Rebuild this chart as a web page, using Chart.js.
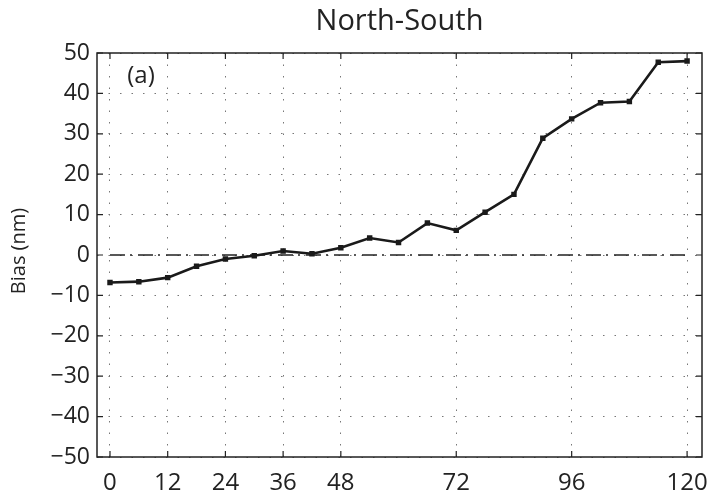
<!DOCTYPE html>
<html>
<head>
<meta charset="utf-8">
<script src="https://cdn.jsdelivr.net/npm/chart.js@4/dist/chart.umd.min.js"></script>
<style>
  html, body { margin: 0; padding: 0; background: #fff; }
  #wrap { width: 712px; height: 490px; }
</style>
</head>
<body>
<div id="wrap"><canvas id="chart"></canvas></div>
<script>
// forecast hours and bias values
const hours = [0, 6, 12, 18, 24, 30, 36, 42, 48, 54, 60, 66, 72, 78, 84, 90, 96, 102, 108, 114, 120];
const bias = [-6.8, -6.6, -5.6, -2.8, -1.0, -0.2, 1.0, 0.3, 1.8, 4.2, 3.1, 7.9, 6.1, 10.6, 15.0, 28.9, 33.7, 37.7, 38.0, 47.7, 48.0];
const xTicks = [0, 12, 24, 36, 48, 72, 96, 120];
const yTicks = [-50, -40, -30, -20, -10, 0, 10, 20, 30, 40, 50];
const zeroLine = [0, 120];

const FONT = "'Open Sans', 'DejaVu Sans', sans-serif";

// box, inward tick marks, titles and panel label
const framePlugin = {
  id: "frame",
  afterDraw(chart) {
    const { ctx, chartArea: a, scales } = chart;
    ctx.save();
    ctx.strokeStyle = "#222";
    ctx.lineWidth = 1.5;
    ctx.strokeRect(a.left, a.top, a.right - a.left, a.bottom - a.top);
    ctx.lineWidth = 1.2;
    ctx.beginPath();
    xTicks.forEach(v => {
      const px = scales.x.getPixelForValue(v);
      ctx.moveTo(px, a.bottom); ctx.lineTo(px, a.bottom - 6);
      ctx.moveTo(px, a.top); ctx.lineTo(px, a.top + 6);
    });
    yTicks.forEach(v => {
      const py = scales.y.getPixelForValue(v);
      ctx.moveTo(a.left, py); ctx.lineTo(a.left + 6, py);
      ctx.moveTo(a.right, py); ctx.lineTo(a.right - 6, py);
    });
    ctx.stroke();

    ctx.fillStyle = "#222";
    ctx.textAlign = "center";
    ctx.textBaseline = "middle";
    ctx.font = "29px " + FONT;
    ctx.fillText("North-South", (a.left + a.right) / 2, 22);
    ctx.font = "24px " + FONT;
    ctx.fillText("(a)", a.left + 44, a.top + 23);

    ctx.translate(19, 251);
    ctx.rotate(-Math.PI / 2);
    ctx.font = "20px " + FONT;
    ctx.fillText("Bias (nm)", 0, 0);
    ctx.restore();
  }
};

new Chart(document.getElementById("chart"), {
  type: "line",
  data: {
    datasets: [
      {
        data: hours.map((h, i) => ({ x: h, y: bias[i] })),
        borderColor: "#1a1a1a",
        backgroundColor: "#1a1a1a",
        borderWidth: 2.6,
        pointStyle: "rect",
        pointRadius: 2,
        tension: 0
      },
      {
        data: zeroLine.map(h => ({ x: h, y: 0 })),
        borderColor: "#222",
        borderWidth: 1.5,
        borderDash: [15, 5, 2, 6],
        pointRadius: 0
      }
    ]
  },
  plugins: [framePlugin],
  options: {
    responsive: true,
    maintainAspectRatio: false,
    animation: false,
    layout: { padding: { top: 53, right: 10, left: 0, bottom: 0 } },
    plugins: { legend: { display: false }, tooltip: { enabled: false } },
    scales: {
      x: {
        type: "linear",
        min: -2.7,
        max: 123.1,
        afterBuildTicks: s => { s.ticks = xTicks.map(v => ({ value: v })); },
        afterFit: s => { s.height = 33; s.paddingLeft = 0; s.paddingRight = 0; },
        grid: { color: "#777", lineWidth: 1, drawTicks: false },
        border: { display: false, dash: [1.5, 10] },
        ticks: { color: "#222", font: { family: FONT, size: 24 }, padding: 12, maxRotation: 0 }
      },
      y: {
        min: -50,
        max: 50,
        afterBuildTicks: s => { s.ticks = yTicks.map(v => ({ value: v })); },
        afterFit: s => { s.width = 97; s.paddingTop = 0; s.paddingBottom = 0; },
        grid: { color: "#777", lineWidth: 1, drawTicks: false },
        border: { display: false, dash: [1.5, 10] },
        ticks: {
          color: "#222",
          font: { family: FONT, size: 23 },
          padding: 7,
          callback: v => String(v).replace("-", "\u2212")
        }
      }
    }
  }
});
</script>
</body>
</html>
